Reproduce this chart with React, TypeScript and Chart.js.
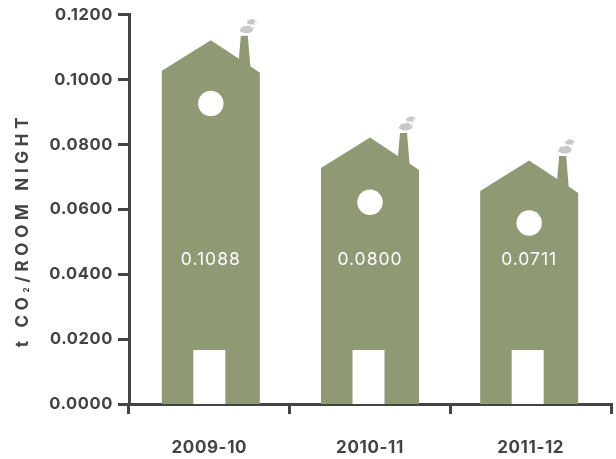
import React, { useEffect, useRef } from "react";
import { Chart, registerables } from "chart.js";

Chart.register(...registerables);

const categories = ["2009-10", "2010-11", "2011-12"];
const values = [0.1088, 0.08, 0.0711];
const roofPeaks = [0.1122, 0.0822, 0.0751];
const windowLevels = [0.0927, 0.0622, 0.0558];
const yTicks = [0, 0.02, 0.04, 0.06, 0.08, 0.1, 0.12];

const GREEN = "#8f9a74";
const AXIS = "#444444";
const SMOKE = "#c9c9c9";
const FONT = "Inter, sans-serif";
const CENTER_SHIFT = [1.5, 0, -1.5];

const housePlugin = {
  id: "houses",
  beforeDraw(chart: any) {
    (chart.ctx as any).letterSpacing = "0.6px";
  },
  afterDatasetsDraw(chart: any) {
    const { ctx } = chart;
    const meta = chart.getDatasetMeta(0);
    const yScale = chart.scales.y;
    meta.data.forEach((bar: any, i: number) => {
      const cx = bar.x + CENTER_SHIFT[i];
      const half = bar.width / 2;
      const base = yScale.getPixelForValue(0);
      const peak = yScale.getPixelForValue(roofPeaks[i]);
      const left = cx - half;
      const right = cx + half;
      ctx.save();
      // body, roof and chimney, relative to the peak of the roof
      ctx.fillStyle = GREEN;
      ctx.beginPath();
      ctx.moveTo(left, base);
      ctx.lineTo(left, peak + 30.5);
      ctx.lineTo(cx, peak);
      ctx.lineTo(cx + 28, peak + 18.5);
      ctx.lineTo(cx + 30, peak - 4.5);
      ctx.lineTo(cx + 37, peak - 4.5);
      ctx.lineTo(cx + 39.5, peak + 26);
      ctx.lineTo(right, peak + 32.5);
      ctx.lineTo(right, base);
      ctx.closePath();
      ctx.fill();
      // door
      ctx.fillStyle = "#ffffff";
      ctx.fillRect(cx - 17.5, base - 54, 32, 54);
      // window
      ctx.beginPath();
      ctx.arc(cx, yScale.getPixelForValue(windowLevels[i]), 12.7, 0, Math.PI * 2);
      ctx.fill();
      // smoke
      ctx.fillStyle = SMOKE;
      ctx.beginPath();
      ctx.ellipse(cx + 35.5, peak - 10, 6.6, 3, 0, 0, Math.PI * 2);
      ctx.ellipse(cx + 33.5, peak - 11, 3.4, 3, 0, 0, Math.PI * 2);
      ctx.ellipse(cx + 37.5, peak - 11.5, 3.4, 3.2, 0, 0, Math.PI * 2);
      ctx.ellipse(cx + 41, peak - 18, 5, 2.2, 0, 0, Math.PI * 2);
      ctx.ellipse(cx + 41, peak - 18.8, 3, 2.4, 0, 0, Math.PI * 2);
      ctx.fill();
      // value label
      ctx.fillStyle = "#ffffff";
      ctx.font = `400 17.5px ${FONT}`;
      (ctx as any).letterSpacing = "1px";
      ctx.textAlign = "center";
      ctx.textBaseline = "middle";
      ctx.fillText(values[i].toFixed(4), cx, 260);
      ctx.restore();
    });
    // axis title, rotated
    ctx.save();
    ctx.translate(23, 230);
    ctx.rotate(-Math.PI / 2);
    ctx.fillStyle = AXIS;
    ctx.textBaseline = "middle";
    ctx.textAlign = "left";
    const main = `700 17px ${FONT}`;
    const sub = `700 8px ${FONT}`;
    (ctx as any).letterSpacing = "4.7px";
    const parts: [string, string, number][] = [
      ["t CO", main, 0],
      ["2", sub, 4],
      ["/ROOM NIGHT", main, 0],
    ];
    let total = 0;
    parts.forEach(([t, f]) => {
      ctx.font = f;
      total += ctx.measureText(t).width;
    });
    let x = -total / 2;
    parts.forEach(([t, f, dy]) => {
      ctx.font = f;
      ctx.fillText(t, x, dy);
      x += ctx.measureText(t).width;
    });
    ctx.restore();
  },
};

export default function App() {
  const ref = useRef<HTMLCanvasElement>(null);
  useEffect(() => {
    document.body.style.margin = "0";
    const chart = new Chart(ref.current!, {
      type: "bar",
      data: {
        labels: categories,
        datasets: [
          {
            label: "t CO2/room night",
            data: values,
            backgroundColor: "rgba(0,0,0,0)",
            barPercentage: 0.61,
            categoryPercentage: 1,
          },
        ],
      },
      options: {
        responsive: false,
        animation: false,
        layout: { padding: { top: 13, right: 5, bottom: 0, left: 0 } },
        plugins: { legend: { display: false }, tooltip: { enabled: false }, title: { display: false } },
        scales: {
          x: {
            afterFit(s: any) {
              s.height = 55;
            },
            border: { color: AXIS, width: 3 },
            grid: { drawOnChartArea: false, color: AXIS, lineWidth: 3, tickLength: 10, offset: true },
            ticks: {
              color: AXIS,
              font: { family: FONT, size: 17, weight: "700" },
              padding: 24,
              maxRotation: 0,
            },
          },
          y: {
            min: 0,
            max: 0.12,
            afterFit(s: any) {
              s.width = 129;
            },
            afterBuildTicks(s: any) {
              s.ticks = yTicks.map((v) => ({ value: v }));
            },
            border: { color: AXIS, width: 3 },
            grid: { drawOnChartArea: false, color: AXIS, lineWidth: 3, tickLength: 11 },
            ticks: {
              color: AXIS,
              font: { family: FONT, size: 16.5, weight: "700" },
              padding: 5,
              callback: (v: any) => Number(v).toFixed(4),
            },
          },
        },
      },
      plugins: [housePlugin],
    } as any);
    return () => chart.destroy();
  }, []);
  return <canvas ref={ref} width={616} height={459} style={{ display: "block" }} />;
}
